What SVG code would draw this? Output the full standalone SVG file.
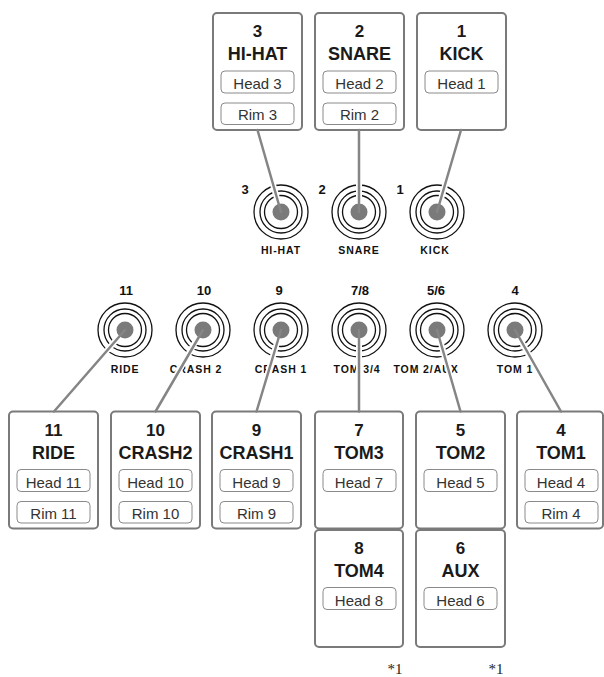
<svg xmlns="http://www.w3.org/2000/svg" width="604" height="677" viewBox="0 0 604 677">
<style>
.box{fill:#fff;stroke:#7a7a7a;stroke-width:2}
.sub{fill:#fff;stroke:#8a8a8a;stroke-width:1}
.num{font-family:"Liberation Sans",Arial,sans-serif;font-weight:bold;font-size:17px;fill:#1a1a1a;text-anchor:middle}
.name{font-family:"Liberation Sans",Arial,sans-serif;font-weight:bold;font-size:18px;fill:#1a1a1a;text-anchor:middle}
.pad{font-family:"Liberation Sans",Arial,sans-serif;font-size:15px;fill:#333;text-anchor:middle}
.ring{fill:none;stroke:#111;stroke-width:1.3}
.dot{fill:#7a7a7a}
.jnum{font-family:"Liberation Sans",Arial,sans-serif;font-weight:bold;font-size:13px;fill:#111;text-anchor:middle}
.jlab{font-family:"Liberation Sans",Arial,sans-serif;font-weight:bold;font-size:10.5px;fill:#111;text-anchor:middle;letter-spacing:0.9px}
.halo{stroke:#fff;stroke-width:6;fill:none}
.wire{stroke:#858585;stroke-width:2.5;fill:none;stroke-linecap:round}
.note{font-family:"Liberation Serif","Times New Roman",serif;font-size:15px;fill:#222;text-anchor:middle}
</style>
<defs>
<g id="jack">
<circle class="ring" r="27"/>
<circle class="ring" r="21"/>
<circle class="ring" r="16.5"/>
<circle class="dot" r="8.5"/>
</g>
</defs>

<!-- top boxes -->
<g id="box-hihat">
<rect class="box" x="213" y="13" width="89" height="117" rx="4"/>
<text class="num" x="257.5" y="37">3</text>
<text class="name" x="257.5" y="60">HI-HAT</text>
<rect class="sub" x="221" y="71" width="73" height="22" rx="4"/>
<text class="pad" x="257.5" y="89">Head 3</text>
<rect class="sub" x="221" y="103" width="73" height="21.5" rx="4"/>
<text class="pad" x="257.5" y="120">Rim 3</text>
</g>
<g id="box-snare">
<rect class="box" x="315" y="13" width="89" height="117" rx="4"/>
<text class="num" x="359.5" y="37">2</text>
<text class="name" x="359.5" y="60">SNARE</text>
<rect class="sub" x="323" y="71" width="73" height="22" rx="4"/>
<text class="pad" x="359.5" y="89">Head 2</text>
<rect class="sub" x="323" y="103" width="73" height="21.5" rx="4"/>
<text class="pad" x="359.5" y="120">Rim 2</text>
</g>
<g id="box-kick">
<rect class="box" x="417" y="13" width="89" height="117" rx="4"/>
<text class="num" x="461.5" y="37">1</text>
<text class="name" x="461.5" y="60">KICK</text>
<rect class="sub" x="425" y="71" width="73" height="22" rx="4"/>
<text class="pad" x="461.5" y="89">Head 1</text>
</g>

<!-- bottom boxes -->
<g id="box-ride">
<rect class="box" x="9" y="411.5" width="89" height="117" rx="4"/>
<text class="num" x="53.5" y="435.5">11</text>
<text class="name" x="53.5" y="458.5">RIDE</text>
<rect class="sub" x="17" y="469.5" width="73" height="22" rx="4"/>
<text class="pad" x="53.5" y="487.5">Head 11</text>
<rect class="sub" x="17" y="501.5" width="73" height="21.5" rx="4"/>
<text class="pad" x="53.5" y="518.5">Rim 11</text>
</g>
<g id="box-crash2">
<rect class="box" x="111" y="411.5" width="89" height="117" rx="4"/>
<text class="num" x="155.5" y="435.5">10</text>
<text class="name" x="155.5" y="458.5">CRASH2</text>
<rect class="sub" x="119" y="469.5" width="73" height="22" rx="4"/>
<text class="pad" x="155.5" y="487.5">Head 10</text>
<rect class="sub" x="119" y="501.5" width="73" height="21.5" rx="4"/>
<text class="pad" x="155.5" y="518.5">Rim 10</text>
</g>
<g id="box-crash1">
<rect class="box" x="212" y="411.5" width="89" height="117" rx="4"/>
<text class="num" x="256.5" y="435.5">9</text>
<text class="name" x="256.5" y="458.5">CRASH1</text>
<rect class="sub" x="220" y="469.5" width="73" height="22" rx="4"/>
<text class="pad" x="256.5" y="487.5">Head 9</text>
<rect class="sub" x="220" y="501.5" width="73" height="21.5" rx="4"/>
<text class="pad" x="256.5" y="518.5">Rim 9</text>
</g>
<g id="box-tom3">
<rect class="box" x="315" y="411.5" width="88" height="117" rx="4"/>
<text class="num" x="359" y="435.5">7</text>
<text class="name" x="359" y="458.5">TOM3</text>
<rect class="sub" x="323" y="469.5" width="73" height="22" rx="4"/>
<text class="pad" x="359" y="487.5">Head 7</text>
</g>
<g id="box-tom4">
<rect class="box" x="315" y="530" width="88" height="117" rx="4"/>
<text class="num" x="359" y="553.5">8</text>
<text class="name" x="359" y="576.5">TOM4</text>
<rect class="sub" x="323" y="587.5" width="73" height="22" rx="4"/>
<text class="pad" x="359" y="605.5">Head 8</text>
</g>
<g id="box-tom2">
<rect class="box" x="416" y="411.5" width="89" height="117" rx="4"/>
<text class="num" x="460.5" y="435.5">5</text>
<text class="name" x="460.5" y="458.5">TOM2</text>
<rect class="sub" x="424" y="469.5" width="73" height="22" rx="4"/>
<text class="pad" x="460.5" y="487.5">Head 5</text>
</g>
<g id="box-aux">
<rect class="box" x="416" y="530" width="89" height="117" rx="4"/>
<text class="num" x="460.5" y="553.5">6</text>
<text class="name" x="460.5" y="576.5">AUX</text>
<rect class="sub" x="424" y="587.5" width="73" height="22" rx="4"/>
<text class="pad" x="460.5" y="605.5">Head 6</text>
</g>
<g id="box-tom1">
<rect class="box" x="517" y="411.5" width="86" height="117" rx="4"/>
<text class="num" x="561" y="435.5">4</text>
<text class="name" x="561" y="458.5">TOM1</text>
<rect class="sub" x="525" y="469.5" width="73" height="22" rx="4"/>
<text class="pad" x="561" y="487.5">Head 4</text>
<rect class="sub" x="525" y="501.5" width="73" height="21.5" rx="4"/>
<text class="pad" x="561" y="518.5">Rim 4</text>
</g>

<!-- jacks top -->
<g id="jack-hihat">
<use href="#jack" x="281" y="212"/>
<text class="jnum" x="245" y="194">3</text>
<text class="jlab" x="281" y="254">HI-HAT</text>
</g>
<g id="jack-snare">
<use href="#jack" x="359" y="212"/>
<text class="jnum" x="322" y="194">2</text>
<text class="jlab" x="359" y="254">SNARE</text>
</g>
<g id="jack-kick">
<use href="#jack" x="437" y="212"/>
<text class="jnum" x="400" y="194">1</text>
<text class="jlab" x="435" y="254">KICK</text>
</g>

<!-- jacks bottom -->
<g id="jack-ride">
<use href="#jack" x="125" y="330"/>
<text class="jnum" x="126" y="295">11</text>
<text class="jlab" x="125" y="373">RIDE</text>
</g>
<g id="jack-crash2">
<use href="#jack" x="203" y="330"/>
<text class="jnum" x="204" y="295">10</text>
<text class="jlab" x="196" y="373">CRASH 2</text>
</g>
<g id="jack-crash1">
<use href="#jack" x="281" y="330"/>
<text class="jnum" x="279" y="295">9</text>
<text class="jlab" x="281" y="373">CRASH 1</text>
</g>
<g id="jack-tom34">
<use href="#jack" x="359" y="330"/>
<text class="jnum" x="360" y="295">7/8</text>
<text class="jlab" x="357" y="373">TOM 3/4</text>
</g>
<g id="jack-tom2aux">
<use href="#jack" x="437" y="330"/>
<text class="jnum" x="436" y="295">5/6</text>
<text class="jlab" x="426" y="373">TOM 2/AUX</text>
</g>
<g id="jack-tom1">
<use href="#jack" x="515" y="330"/>
<text class="jnum" x="515" y="295">4</text>
<text class="jlab" x="515" y="373">TOM 1</text>
</g>

<!-- connectors -->
<g id="connectors">
<g class="halo">
<line x1="258.5" y1="134" x2="278.6" y2="203.8"/>
<line x1="359" y1="134" x2="359" y2="203.5"/>
<line x1="460" y1="134" x2="439.5" y2="203.8"/>
<line x1="119.4" y1="336.4" x2="57" y2="408"/>
<line x1="197.9" y1="337.2" x2="158" y2="408"/>
<line x1="278.4" y1="338.1" x2="257.6" y2="408"/>
<line x1="359" y1="338.5" x2="359" y2="408"/>
<line x1="439.5" y1="338.2" x2="459.4" y2="408"/>
<line x1="519.1" y1="337.4" x2="558" y2="408"/>
</g>
<g class="wire">
<line x1="257.5" y1="130" x2="281" y2="212"/>
<line x1="359" y1="130" x2="359" y2="212"/>
<line x1="461" y1="130" x2="437" y2="212"/>
<line x1="125" y1="330" x2="54" y2="411.5"/>
<line x1="203" y1="330" x2="155.5" y2="411.5"/>
<line x1="281" y1="330" x2="256.5" y2="411.5"/>
<line x1="359" y1="330" x2="359" y2="411.5"/>
<line x1="437" y1="330" x2="460.5" y2="411.5"/>
<line x1="515" y1="330" x2="561" y2="411.5"/>
</g>
</g>

<text class="note" x="395" y="674">*1</text>
<text class="note" x="496" y="674">*1</text>
</svg>
